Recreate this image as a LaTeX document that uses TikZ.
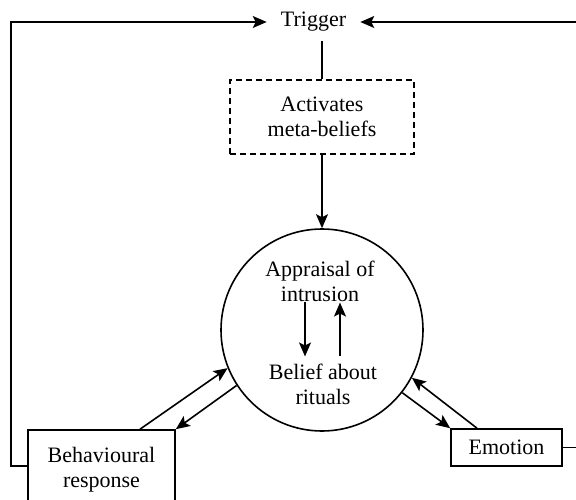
\documentclass[tikz,border=0pt]{standalone}
\usepackage{fontspec}
\setmainfont{Liberation Serif}
\usetikzlibrary{arrows.meta,calc}
\begin{document}
\begin{tikzpicture}[x=1pt,y=-1pt,
  every node/.style={font=\fontsize{22}{25}\selectfont, align=center},
  ln/.style={line width=1.6pt},
  arr/.style={ln,-{Stealth[length=14pt,width=12pt,inset=3pt]}},
  boxstyle/.style={draw,line width=1.6pt,inner sep=0pt},
  dashbox/.style={draw,line width=1.6pt,dash pattern=on 6pt off 4pt,inner sep=0pt,minimum width=184pt,minimum height=74pt},
  txt/.style={inner sep=0pt}
]
\useasboundingbox (0,0) rectangle (576,500);
\node[inner xsep=14pt,inner ysep=9.5pt] (trigger) at (313.5,22) {Trigger};
\node[dashbox] (meta) at (322,117) {Activates\\meta-beliefs};
\node[draw,circle,line width=1.6pt,minimum size=202pt,inner sep=0pt] (circ) at (322,330) {};
\node[txt] (appr) at (320,281) {Appraisal of\\intrusion};
\node[txt] (belief) at (323,384) {Belief about\\rituals};
\node[boxstyle,minimum width=147pt,minimum height=80pt] (beh) at (101.5,470) {Behavioural\\response};
\node[boxstyle,minimum width=111pt,minimum height=37pt] (emo) at (506.5,447.5) {Emotion};

\draw[ln] (meta.north) -- (meta.north |- trigger.south);
\draw[arr] (meta.south) -- (circ.north);
\draw[arr] ([xshift=-15pt]appr.south) -- ([xshift=-18pt,yshift=7pt]belief.north);
\draw[arr] ([xshift=17pt,yshift=7pt]belief.north) -- ([xshift=20pt,yshift=-1pt]appr.south);
\draw[arr] ([xshift=38.5pt]beh.north) -- (circ.202);
\draw[arr] (circ.213) -- (beh.north east);
\draw[arr] (circ.322) -- (emo.north west);
\draw[arr] ([xshift=-29.5pt]emo.north) -- (circ.332);
\draw[arr] ([yshift=4pt]beh.west) -- ++(-16,0) |- (trigger.west);
\draw[arr] (emo.east) -- ++(25,0) |- (trigger.east);
\end{tikzpicture}
\end{document}
